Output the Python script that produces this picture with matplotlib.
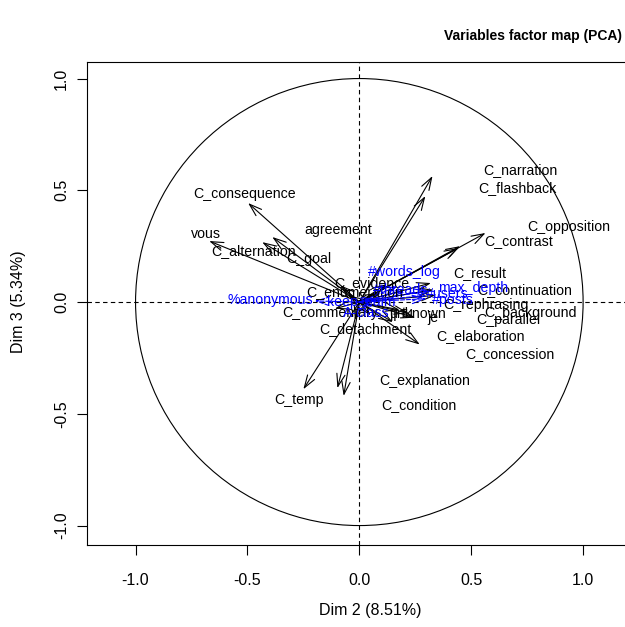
import numpy as np
import matplotlib
matplotlib.use("Agg")
import matplotlib.pyplot as plt
from matplotlib.patches import Circle

plt.rcParams['font.family'] = ['Liberation Sans', 'DejaVu Sans']

# Active variables (black arrows): arrow tip coordinates (Dim 2, Dim 3)
active_x = [-0.497, -0.671, -0.434, -0.389, 0.327, 0.295, 0.564, 0.443, 0.45,
            0.32, 0.33, 0.34, 0.18, 0.27, -0.25, -0.098, -0.07, 0.12, -0.085,
            -0.02, 0.22, 0.25, 0.15, 0.09, -0.05, 0.05, -0.11]
active_y = [0.443, 0.273, 0.268, 0.291, 0.564, 0.474, 0.309, 0.242, 0.25,
            0.085, 0.055, 0.03, -0.035, -0.19, -0.39, -0.385, -0.42, 0.08, 0.075,
            -0.08, -0.05, -0.07, -0.09, 0.04, 0.03, -0.06, -0.03]

# Supplementary variables (blue dashed arrows)
supp_x = [0.17, 0.2, 0.31, 0.3, 0.3, -0.2, 0.08, 0.06]
supp_y = [0.07, 0.05, 0.05, 0.03, 0.015, 0.005, 0.01, -0.02]

# Labels (text, x, y)
active_labels = ["C_narration", "C_flashback", "C_opposition", "C_contrast",
                 "C_consequence", "agreement", "vous", "C_alternation", "C_goal",
                 "C_result", "C_continuation", "C_rephrasing", "C_background",
                 "C_parallel", "C_elaboration", "C_concession", "C_explanation",
                 "C_condition", "C_temp", "C_detachment", "C_evidence",
                 "C_enumeration", "C_commentary", "tu", "unknown", "je", "il"]
active_lx = [0.719, 0.705, 0.938, 0.711, -0.511, -0.094, -0.686, -0.474, -0.228,
             0.54, 0.738, 0.564, 0.767, 0.664, 0.54, 0.672, 0.291, 0.264, -0.268,
             0.027, 0.058, -0.02, -0.13, 0.215, 0.26, 0.33, 0.15]
active_ly = [0.591, 0.51, 0.336, 0.273, 0.483, 0.322, 0.304, 0.228, 0.192,
             0.130, 0.054, -0.013, -0.049, -0.081, -0.152, -0.233, -0.354,
             -0.461, -0.439, -0.121, 0.085, 0.045, -0.05, -0.05, -0.055, -0.07, -0.065]

supp_labels = ["#words_log", "#threads", "max_depth", "#users", "#posts",
               "%anonymous", "keep_calm", "A-class"]
supp_lx = [0.201, 0.183, 0.510, 0.394, 0.416, -0.398, 0.009, 0.031]
supp_ly = [0.134, 0.054, 0.063, 0.036, 0.009, 0.009, 0.0, -0.05]

fig = plt.figure(figsize=(6.25, 6.27), dpi=100)
ax = fig.add_axes([87/625, 1-545/627, 1-87/625 + 0.001, (545-62)/627])
ax.set_xlim(-1.217, 1.19)
ax.set_ylim(-1.087, 1.074)

ax.add_patch(Circle((0, 0), 1.0, fill=False, lw=0.8, color='black'))
ax.axhline(0, ls=(0, (4, 3)), lw=0.8, color='black')
ax.axvline(0, ls=(0, (4, 3)), lw=0.8, color='black')

head = '->,head_length=0.9,head_width=0.3'
for x, y in zip(active_x, active_y):
    ax.annotate('', xy=(x, y), xytext=(0, 0),
                arrowprops=dict(arrowstyle=head, lw=0.8, color='black',
                                shrinkA=0, shrinkB=0))
for x, y in zip(supp_x, supp_y):
    ax.annotate('', xy=(x, y), xytext=(0, 0),
                arrowprops=dict(arrowstyle=head, lw=0.8, color='blue', ls='--',
                                shrinkA=0, shrinkB=0))

for t, x, y in zip(active_labels, active_lx, active_ly):
    ax.text(x, y, t, ha='center', va='center', fontsize=10.2, color='black')
for t, x, y in zip(supp_labels, supp_lx, supp_ly):
    ax.text(x, y, t, ha='center', va='center', fontsize=10.2, color='blue')

ax.set_xticks([-1.0, -0.5, 0.0, 0.5, 1.0])
ax.set_yticks([-1.0, -0.5, 0.0, 0.5, 1.0])
ax.set_xticklabels(["-1.0", "-0.5", "0.0", "0.5", "1.0"], fontsize=11.5)
ax.set_yticklabels(["-1.0", "-0.5", "0.0", "0.5", "1.0"], fontsize=11.5,
                   rotation=90, va='center')
ax.tick_params(axis='x', length=7, width=0.8, pad=13)
ax.tick_params(axis='y', length=7, width=0.8, pad=6)
for s in ax.spines.values():
    s.set_linewidth(0.8)

fig.text(19/625, 1-302/627, "Dim 3 (5.34%)", rotation=90, ha='center', va='center', fontsize=11.5)
fig.text(370/625, 1-610/627, "Dim 2 (8.51%)", ha='center', va='center', fontsize=11.5)
fig.text(533/625, 1-36/627, "Variables factor map (PCA)", ha='center', va='center',
         fontsize=10, fontweight='bold')

fig.savefig("out.png", dpi=100)
